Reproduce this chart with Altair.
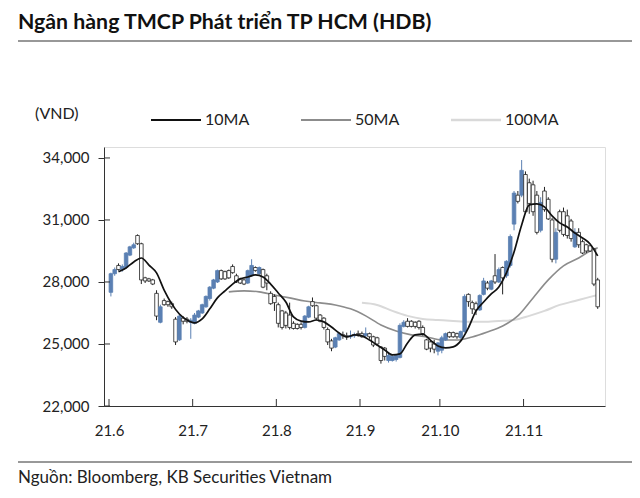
import altair as alt
import pandas as pd

FONT = "Lato"
BLUE = "#5b80b3"

# ---- data (daily candles, trading-day index) ----
opens = [27500, 28400, 28800, 28600, 28700, 29300, 29650, 30250, 29850, 28200,
         28150, 28100, 27450, 26050, 27100, 27050, 26950, 26200, 25200, 26250,
         26200, 26050, 26000, 26300, 26500, 26800, 27200, 27700, 28000, 28550,
         28500, 28550, 28750, 28300, 28150, 28100, 27950, 28300, 28700, 28400,
         28600, 28300, 27450, 27300, 26900, 26600, 26500, 26400, 26000, 25950,
         25950, 25800, 26300, 27050, 26850, 26400, 26250, 25700, 25150, 24850,
         25200, 25450, 25400, 25350, 25400, 25500, 25500, 25400, 25500, 25350,
         25300, 24850, 24800, 24200, 24200, 24250, 24350, 25850, 26100, 26100,
         26050, 26100, 25800, 25200, 25100, 25000, 24650, 24700, 25200, 25550,
         25550, 25500, 25300, 25600, 27400, 27000, 26950, 26650, 27400, 27950,
         27650, 28300, 28000, 28700, 28300, 28800, 30800, 32200, 32200, 33200,
         32800, 32700, 32200, 30500, 32400, 32000, 31000, 29100, 31400, 31400,
         31200, 30950, 29700, 30400, 29950, 29800, 29750, 29600, 28100]
closes = [28400, 28600, 28600, 28750, 29400, 29700, 29800, 29850, 28100, 28050,
          28050, 27900, 26350, 26800, 26900, 26900, 26800, 25100, 26350, 26100,
          26100, 26150, 26400, 26600, 26900, 27300, 27750, 28100, 28550, 28150,
          28150, 28200, 28450, 28000, 27950, 27900, 28550, 28800, 28550, 28700,
          27750, 27950, 26950, 27000, 26000, 25800, 25900, 25800, 25750, 25750,
          25800, 26350, 26800, 26850, 26250, 26100, 25800, 25100, 24800, 25300,
          25500, 25400, 25350, 25400, 25450, 25450, 25350, 25500, 25350, 24950,
          25000, 24200, 24400, 24450, 24400, 24450, 25900, 26050, 25850, 25850,
          25850, 25800, 25500, 24750, 24800, 24750, 25050, 25300, 25500, 25350,
          25350, 25350, 25600, 27300, 27050, 26700, 26650, 27350, 28050, 27700,
          28050, 28000, 28600, 28200, 29000, 30200, 32300, 31900, 33400, 31400,
          31800, 31400, 30400, 31850, 31500, 31050, 29100, 30400, 30500, 30300,
          30250, 30100, 30400, 29800, 29400, 29500, 29500, 27900, 26800]
highs = [28450, 28700, 28900, 28850, 29450, 29750, 29900, 30300, 29900, 28250,
         28200, 28150, 27600, 26900, 27200, 27100, 27050, 26300, 26450, 26350,
         26300, 26250, 26500, 26650, 26950, 27350, 27800, 28150, 28600, 28600,
         28550, 28600, 28850, 28400, 28200, 28150, 28600, 29100, 28750, 28750,
         28650, 28400, 27550, 27400, 27000, 26650, 26600, 27000, 26100, 26000,
         26050, 26400, 26850, 27250, 26900, 26450, 26300, 25800, 25250, 25350,
         25550, 25600, 25550, 25650, 25550, 25650, 25600, 25800, 25550, 25400,
         25350, 24900, 24850, 24600, 24450, 24500, 26000, 26150, 26250, 26150,
         26100, 26150, 25900, 25250, 25150, 25200, 25100, 25400, 25550, 25600,
         25600, 25550, 25650, 27400, 27450, 27100, 27050, 27400, 28200, 28050,
         28100, 29350, 28700, 28750, 29050, 30300, 32400, 32400, 33900, 33350,
         33000, 32900, 32400, 32100, 32600, 32100, 31100, 30600, 31500, 31600,
         31500, 31050, 30600, 30600, 30050, 29850, 29800, 29650, 28200]
lows = [27300, 28300, 28550, 28500, 28650, 29250, 29600, 29800, 27900, 27950,
        28000, 27850, 26150, 26000, 26850, 26800, 26700, 24950, 25150, 25950,
        26000, 25250, 25950, 26250, 26450, 26750, 27100, 27650, 27950, 28100,
        28100, 28150, 28400, 27950, 27900, 27850, 27900, 28250, 28500, 28350,
        27700, 27600, 26900, 26600, 25800, 25700, 25750, 25700, 25700, 25700,
        25700, 25750, 26250, 26800, 26150, 26050, 25700, 24950, 24650, 24800,
        25150, 25250, 25200, 25250, 25300, 25350, 25300, 25300, 25250, 24850,
        24900, 24050, 24200, 24100, 24150, 24150, 24300, 25800, 25800, 25800,
        25750, 25700, 25400, 24700, 24600, 24550, 24450, 24550, 25150, 25300,
        25300, 25250, 25250, 25550, 26800, 26450, 26400, 26600, 27350, 27600,
        27600, 27900, 27950, 27400, 28200, 28700, 30500, 31800, 32100, 31300,
        31300, 31200, 30300, 30400, 31400, 31000, 28950, 28900, 30400, 30200,
        30100, 29950, 29650, 29650, 29350, 29400, 29450, 27800, 26700]

ma10_idx = list(range(2, 129, 2))
ma10_val = [28490, 28680, 28970, 29160, 28820, 28440, 27610, 26940, 26450, 26160,
            26020, 26210, 26700, 27230, 27570, 27900, 28150, 28240, 28340, 28240,
            27900, 27470, 27030, 26310, 26110, 26070, 26160, 26070, 25820, 25530,
            25340, 25440, 25390, 25190, 24950, 24710, 24470, 24520, 25050, 25440,
            25480, 25190, 24900, 24810, 24860, 25150, 25780, 26600, 27030, 27420,
            27760, 28440, 29450, 30760, 31730, 31780, 31630, 31200, 30860, 30660,
            30370, 30130, 29840, 29260]

ma50_idx = [31, 35, 39, 43, 47, 51, 55, 59, 63, 67, 71, 75, 79, 83, 87, 91, 95,
            99, 103, 107, 111, 115, 119, 123, 126, 128]
ma50_val = [27520, 27570, 27520, 27370, 27230, 27080, 26990, 26890, 26700, 26360,
            25920, 25630, 25440, 25340, 25190, 25190, 25340, 25580, 25870, 26360,
            27230, 28100, 28780, 29160, 29500, 29650]

ma100_idx = [66, 70, 74, 78, 82, 86, 90, 94, 98, 102, 106, 110, 114, 118, 122,
             126, 128]
ma100_val = [26990, 26890, 26600, 26360, 26210, 26160, 26110, 26070, 26070, 26110,
             26160, 26360, 26600, 26890, 27080, 27280, 27370]

tick_pos = [-0.5, 21.5, 43.5, 65.5, 86.5, 108.5]
tick_labels = ["21.6", "21.7", "21.8", "21.9", "21.10", "21.11"]
y_ticks = [22000, 25000, 28000, 31000, 34000]

series_names = ["10MA", "50MA", "100MA"]
series_colors = ["#111111", "#8c8c8c", "#d9d9d9"]

title_text = "Ngân hàng TMCP Phát triển TP HCM (HDB)"
unit_text = "(VND)"
source_text = "Nguồn: Bloomberg, KB Securities Vietnam"

# ---- layout (plot area) ----
W, H = 501, 259

df = pd.DataFrame({"idx": list(range(len(opens))), "open": opens, "high": highs,
                   "low": lows, "close": closes})
df["dir"] = ["up" if c > o else "down" for o, c in zip(opens, closes)]

xs = alt.Scale(domain=[-0.5, 128.6], nice=False, zero=False)
ys = alt.Scale(domain=[22000, 34530], nice=False, zero=False)

label_expr = "[" + ",".join(f"'{l}'" for l in tick_labels) + "][indexof([" + \
    ",".join(str(p) for p in tick_pos) + "], datum.value)]"

x_axis = alt.Axis(values=tick_pos, labelExpr=label_expr, tickSize=0, ticks=False,
                  domainColor="#333333", labelFont=FONT, labelFontSize=15,
                  labelColor="#222222", labelPadding=17, grid=False, title=None,
                  labelFlush=False)
y_axis = alt.Axis(values=y_ticks, format=",d", tickSize=6, tickColor="#333333",
                  domainColor="#333333", labelFont=FONT, labelFontSize=15,
                  labelColor="#222222", labelPadding=9, grid=False, title=None)

base = alt.Chart(df)

wicks = base.mark_rule(strokeWidth=1).encode(
    x=alt.X("idx:Q", scale=xs, axis=x_axis),
    y=alt.Y("low:Q", scale=ys, axis=y_axis),
    y2="high:Q",
    color=alt.Color("dir:N", scale=alt.Scale(domain=["up", "down"], range=[BLUE, "#222222"]), legend=None),
)
bodies = base.mark_bar(size=3.6, strokeWidth=0.8).encode(
    x=alt.X("idx:Q", scale=xs),
    y=alt.Y("open:Q", scale=ys),
    y2="close:Q",
    fill=alt.Fill("dir:N", scale=alt.Scale(domain=["up", "down"], range=[BLUE, "#ffffff"]), legend=None),
    stroke=alt.Stroke("dir:N", scale=alt.Scale(domain=["up", "down"], range=[BLUE, "#222222"]), legend=None),
)


def ma_line(idx, vals, color, width):
    d = pd.DataFrame({"idx": idx, "v": vals})
    return alt.Chart(d).mark_line(color=color, strokeWidth=width, interpolate="monotone").encode(
        x=alt.X("idx:Q", scale=xs), y=alt.Y("v:Q", scale=ys))


ma100 = ma_line(ma100_idx, ma100_val, series_colors[2], 2)
ma50 = ma_line(ma50_idx, ma50_val, series_colors[1], 1.6)
ma10 = ma_line(ma10_idx, ma10_val, series_colors[0], 1.7)

xticks = alt.Chart(pd.DataFrame({"p": tick_pos})).mark_rule(color="#333333").encode(
    x=alt.X("p:Q", scale=xs), y=alt.value(H - 7), y2=alt.value(H))
yticks_in = alt.Chart(pd.DataFrame({"v": y_ticks})).mark_rule(color="#333333").encode(
    y=alt.Y("v:Q", scale=ys), x=alt.value(0), x2=alt.value(6))


def text(t, x, y, size=14, weight="normal", color="#222222"):
    return alt.Chart(pd.DataFrame({"t": [t]})).mark_text(
        align="left", baseline="middle", font=FONT, fontSize=size, fontWeight=weight,
        color=color).encode(x=alt.value(x), y=alt.value(y), text="t:N")


def hline(x1, x2, y, color, width):
    return alt.Chart(pd.DataFrame({"a": [0]})).mark_rule(color=color, strokeWidth=width).encode(
        x=alt.value(x1), x2=alt.value(x2), y=alt.value(y))


deco = [
    text(title_text, -86, -124, size=21.3, weight="bold", color="#111111"),
    hline(-86, 528, -106, "#333333", 1.2),
    text(unit_text, -69, -33, size=16),
    hline(-86, 528, 315, "#333333", 1),
    text(source_text, -86, 331, size=17),
]
leg_x = [47, 197, 347]
leg_w = [2, 2, 2.5]
for name, col, lx, lw in zip(series_names, series_colors, leg_x, leg_w):
    deco.append(hline(lx, lx + 50, -27, col, lw))
    deco.append(text(name, lx + 54, -27, size=16))

chart = alt.layer(ma100, ma50, wicks, bodies, ma10, xticks, yticks_in, *deco).properties(
    width=W, height=H,
    autosize=alt.AutoSizeParams(type="none"),
    padding={"left": 96, "top": 139, "right": 27, "bottom": 84},
).configure_view(stroke=None).configure(background="white")

chart.save("out.html", embed_options={"renderer": "svg", "actions": False})
